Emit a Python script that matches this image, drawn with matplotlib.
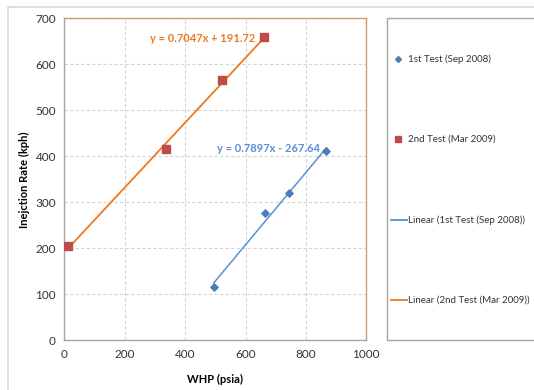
import numpy as np
import matplotlib
matplotlib.use("Agg")
from matplotlib import pyplot as plt
from matplotlib.patches import Rectangle

plt.rcParams['font.family'] = ['Lato', 'DejaVu Sans']

# WHP (psia) vs injection rate (kph)
test1_whp = [495, 663, 745, 868]
test1_rate = [115, 276, 320, 411]
test2_whp = [12, 338, 523, 660]
test2_rate = [205, 416, 565, 659]

test1_label = '1st Test (Sep 2008)'
test2_label = '2nd Test (Mar 2009)'

blue_pt = '#4A7EBB'
red_pt = '#BE4B48'
blue_ln = '#5A8FD6'
orange_ln = '#F0781E'

W, H = 534, 390
fig = plt.figure(figsize=(W / 100, H / 100), dpi=100)

# outer chart border
fig.patches.append(Rectangle((8 / W, -0.1), 1.2, 1 - 7 / H + 0.1, transform=fig.transFigure,
                             fill=False, ec='#D9D9D9', lw=1.2))

ax = fig.add_axes([64.3 / W, 1 - 340.3 / H, (366.3 - 64.3) / W, (340.3 - 18.3) / H])

# linear fits
fits = []
for xs, ys in [(test1_whp, test1_rate), (test2_whp, test2_rate)]:
    m, b = np.polyfit(xs, ys, 1)
    fits.append((m, b))

xx1 = np.array([min(test1_whp), max(test1_whp)])
xx2 = np.array([min(test2_whp), max(test2_whp)])
ax.plot(xx1, fits[0][0] * xx1 + fits[0][1], color=blue_ln, lw=1.1, zorder=2)
ax.plot(xx2, fits[1][0] * xx2 + fits[1][1], color=orange_ln, lw=1.3, zorder=2)

ax.scatter(test1_whp, test1_rate, marker='D', s=14, color=blue_pt, zorder=3)
ax.scatter(test2_whp, test2_rate, marker='s', s=30, color=red_pt, zorder=3)

ax.text(632, 655, 'y = 0.7047x + 191.72', color=orange_ln, fontsize=8, fontweight='bold',
        ha='right', va='center')
ax.text(846, 418, 'y = 0.7897x - 267.64', color=blue_ln, fontsize=8, fontweight='bold',
        ha='right', va='center')

ax.set_xlim(0, 1000)
ax.set_ylim(0, 700)
ax.set_xticks(np.arange(0, 1001, 200))
ax.set_yticks(np.arange(0, 701, 100))
ax.tick_params(length=0, labelsize=8.5, colors='#333333', pad=6)
ax.grid(True, color='#D4D4D4', ls=(0, (3, 2)), lw=0.8)
ax.set_axisbelow(True)

for side in ['top', 'right']:
    ax.spines[side].set_color('#D09A6A')
for side in ['left', 'bottom']:
    ax.spines[side].set_color('#A6A6A6')
for s in ax.spines.values():
    s.set_linewidth(1.0)

ax.set_xlabel('WHP (psia)', fontsize=8, fontweight='bold', labelpad=10)
ax.set_ylabel('Inejction Rate (kph)', fontsize=8, fontweight='bold', labelpad=4)

# legend panel
lx0 = 387 / W
fig.patches.append(Rectangle((lx0, 1 - 340.3 / H), 1.0, (340.3 - 18.3) / H,
                             transform=fig.transFigure, fill=False, ec='#A6A6A6', lw=1.0))
entries = [
    ('marker', 'D', blue_pt, 6, test1_label, 59),
    ('marker', 's', red_pt, 9, test2_label, 139),
    ('line', None, blue_ln, 0, 'Linear (1st Test (Sep 2008))', 220),
    ('line', None, orange_ln, 0, 'Linear (2nd Test (Mar 2009))', 300),
]
for kind, mk, col, ms, text, ypx in entries:
    y = 1 - ypx / H
    if kind == 'marker':
        fig.lines.append(plt.Line2D([398 / W], [y], marker=mk, ms=ms * 0.5, color=col,
                                    ls='none', transform=fig.transFigure))
    else:
        fig.lines.append(plt.Line2D([391 / W, 407 / W], [y, y], color=col, lw=1.3,
                                    transform=fig.transFigure))
    fig.text(408 / W, y, text, fontsize=7, color='#333333', va='center', ha='left')

fig.savefig('out.png', dpi=100)
